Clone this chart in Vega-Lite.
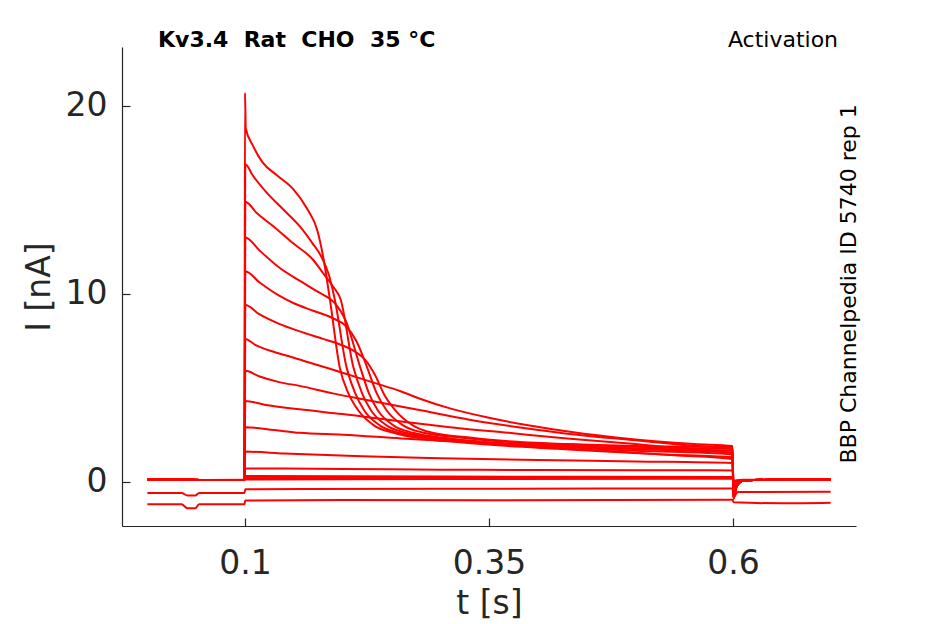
{
  "$schema": "https://vega.github.io/schema/vega-lite/v6.json",
  "width": 734,
  "height": 479,
  "autosize": {"type": "none"},
  "padding": {"left": 122, "top": 47, "right": 89, "bottom": 98},
  "background": "white",
  "title": {
    "text": "Kv3.4\u00a0\u00a0Rat\u00a0\u00a0CHO\u00a0\u00a035\u00a0°C",
    "anchor": "start",
    "frame": "group",
    "dx": 36,
    "dy": 41,
    "offset": 1,
    "baseline": "alphabetic",
    "font": "DejaVu Sans",
    "fontSize": 22,
    "fontWeight": "bold",
    "color": "black"
  },
  "layer": [
    {
      "data": {
        "values": [
          {"s":"A","t":0,"i":0.1},{"s":"A","t":0.03,"i":0.12},{"s":"A","t":0.06,"i":0.09},{"s":"A","t":0.0995,"i":0.1},
          {"s":"A","t":0.1,"i":20.7},{"s":"A","t":0.1008,"i":18.8},{"s":"A","t":0.108,"i":17.9},{"s":"A","t":0.118,"i":17.0},{"s":"A","t":0.133,"i":16.3},{"s":"A","t":0.149,"i":15.6},{"s":"A","t":0.164,"i":14.5},{"s":"A","t":0.174,"i":13.4},{"s":"A","t":0.18,"i":12.0},{"s":"A","t":0.187,"i":9.7},{"s":"A","t":0.197,"i":6.1},{"s":"A","t":0.206,"i":4.7},{"s":"A","t":0.216,"i":3.8},{"s":"A","t":0.232,"i":3.0},{"s":"A","t":0.252,"i":2.6},{"s":"A","t":0.28,"i":2.3},{"s":"A","t":0.32,"i":2.1},{"s":"A","t":0.37,"i":1.9},{"s":"A","t":0.42,"i":1.75},{"s":"A","t":0.47,"i":1.6},{"s":"A","t":0.53,"i":1.45},{"s":"A","t":0.5995,"i":1.3},{"s":"A","t":0.6005,"i":-0.9},
          {"s":"A","t":0.604,"i":-0.2},{"s":"A","t":0.61,"i":0.05},{"s":"A","t":0.65,"i":0.11},{"s":"A","t":0.7,"i":0.1},

          {"s":"B","t":0,"i":0.1},{"s":"B","t":0.03,"i":0.12},{"s":"B","t":0.06,"i":0.09},{"s":"B","t":0.0995,"i":0.1},
          {"s":"B","t":0.1003,"i":16.9},{"s":"B","t":0.108,"i":16.3},{"s":"B","t":0.122,"i":15.4},{"s":"B","t":0.139,"i":14.5},{"s":"B","t":0.156,"i":13.6},{"s":"B","t":0.169,"i":12.7},{"s":"B","t":0.178,"i":12.0},{"s":"B","t":0.186,"i":11.0},{"s":"B","t":0.192,"i":9.7},{"s":"B","t":0.204,"i":6.1},{"s":"B","t":0.213,"i":4.7},{"s":"B","t":0.222,"i":3.8},{"s":"B","t":0.238,"i":3.0},{"s":"B","t":0.258,"i":2.6},{"s":"B","t":0.29,"i":2.3},{"s":"B","t":0.33,"i":2.1},{"s":"B","t":0.38,"i":1.95},{"s":"B","t":0.44,"i":1.8},{"s":"B","t":0.5,"i":1.65},{"s":"B","t":0.5995,"i":1.45},{"s":"B","t":0.6005,"i":-0.9},
          {"s":"B","t":0.604,"i":-0.2},{"s":"B","t":0.61,"i":0.05},{"s":"B","t":0.65,"i":0.11},{"s":"B","t":0.7,"i":0.1},

          {"s":"C","t":0,"i":0.1},{"s":"C","t":0.03,"i":0.12},{"s":"C","t":0.06,"i":0.09},{"s":"C","t":0.0995,"i":0.1},
          {"s":"C","t":0.1003,"i":14.9},{"s":"C","t":0.112,"i":14.3},{"s":"C","t":0.129,"i":13.6},{"s":"C","t":0.149,"i":12.7},{"s":"C","t":0.17,"i":11.8},{"s":"C","t":0.18,"i":11.1},{"s":"C","t":0.19,"i":10.4},{"s":"C","t":0.198,"i":9.7},{"s":"C","t":0.211,"i":6.1},{"s":"C","t":0.22,"i":4.7},{"s":"C","t":0.229,"i":3.8},{"s":"C","t":0.245,"i":3.0},{"s":"C","t":0.265,"i":2.6},{"s":"C","t":0.3,"i":2.3},{"s":"C","t":0.34,"i":2.1},{"s":"C","t":0.4,"i":1.95},{"s":"C","t":0.46,"i":1.8},{"s":"C","t":0.53,"i":1.68},{"s":"C","t":0.5995,"i":1.55},{"s":"C","t":0.6005,"i":-0.9},
          {"s":"C","t":0.604,"i":-0.2},{"s":"C","t":0.61,"i":0.05},{"s":"C","t":0.65,"i":0.11},{"s":"C","t":0.7,"i":0.1},

          {"s":"D","t":0,"i":0.1},{"s":"D","t":0.03,"i":0.12},{"s":"D","t":0.06,"i":0.09},{"s":"D","t":0.0995,"i":0.1},
          {"s":"D","t":0.1003,"i":13.0},{"s":"D","t":0.115,"i":12.3},{"s":"D","t":0.135,"i":11.4},{"s":"D","t":0.156,"i":10.7},{"s":"D","t":0.175,"i":10.1},{"s":"D","t":0.192,"i":9.5},{"s":"D","t":0.203,"i":8.6},{"s":"D","t":0.218,"i":6.1},{"s":"D","t":0.227,"i":4.7},{"s":"D","t":0.236,"i":3.8},{"s":"D","t":0.252,"i":3.0},{"s":"D","t":0.272,"i":2.6},{"s":"D","t":0.31,"i":2.3},{"s":"D","t":0.35,"i":2.1},{"s":"D","t":0.41,"i":1.95},{"s":"D","t":0.47,"i":1.82},{"s":"D","t":0.54,"i":1.72},{"s":"D","t":0.5995,"i":1.65},{"s":"D","t":0.6005,"i":-0.9},
          {"s":"D","t":0.604,"i":-0.2},{"s":"D","t":0.61,"i":0.05},{"s":"D","t":0.65,"i":0.11},{"s":"D","t":0.7,"i":0.1},

          {"s":"E","t":0,"i":0.1},{"s":"E","t":0.03,"i":0.12},{"s":"E","t":0.06,"i":0.09},{"s":"E","t":0.0995,"i":0.1},
          {"s":"E","t":0.1003,"i":11.2},{"s":"E","t":0.115,"i":10.6},{"s":"E","t":0.135,"i":9.9},{"s":"E","t":0.15,"i":9.5},{"s":"E","t":0.17,"i":9.1},{"s":"E","t":0.19,"i":8.7},{"s":"E","t":0.203,"i":8.3},{"s":"E","t":0.214,"i":7.5},{"s":"E","t":0.225,"i":6.1},{"s":"E","t":0.235,"i":4.7},{"s":"E","t":0.245,"i":3.8},{"s":"E","t":0.262,"i":3.0},{"s":"E","t":0.283,"i":2.6},{"s":"E","t":0.32,"i":2.35},{"s":"E","t":0.36,"i":2.15},{"s":"E","t":0.42,"i":2.0},{"s":"E","t":0.48,"i":1.88},{"s":"E","t":0.54,"i":1.8},{"s":"E","t":0.5995,"i":1.75},{"s":"E","t":0.6005,"i":-0.9},
          {"s":"E","t":0.604,"i":-0.2},{"s":"E","t":0.61,"i":0.05},{"s":"E","t":0.65,"i":0.11},{"s":"E","t":0.7,"i":0.1},

          {"s":"F","t":0,"i":0.1},{"s":"F","t":0.03,"i":0.12},{"s":"F","t":0.06,"i":0.09},{"s":"F","t":0.0995,"i":0.1},
          {"s":"F","t":0.1003,"i":9.4},{"s":"F","t":0.115,"i":8.9},{"s":"F","t":0.135,"i":8.4},{"s":"F","t":0.156,"i":8.0},{"s":"F","t":0.18,"i":7.6},{"s":"F","t":0.2,"i":7.25},{"s":"F","t":0.212,"i":6.95},{"s":"F","t":0.223,"i":6.5},{"s":"F","t":0.233,"i":5.7},{"s":"F","t":0.243,"i":4.6},{"s":"F","t":0.254,"i":3.8},{"s":"F","t":0.272,"i":3.0},{"s":"F","t":0.292,"i":2.6},{"s":"F","t":0.33,"i":2.35},{"s":"F","t":0.37,"i":2.15},{"s":"F","t":0.43,"i":2.0},{"s":"F","t":0.5,"i":1.9},{"s":"F","t":0.5995,"i":1.85},{"s":"F","t":0.6005,"i":-0.9},
          {"s":"F","t":0.604,"i":-0.2},{"s":"F","t":0.61,"i":0.05},{"s":"F","t":0.65,"i":0.11},{"s":"F","t":0.7,"i":0.1},

          {"s":"G","t":0,"i":0.1},{"s":"G","t":0.03,"i":0.12},{"s":"G","t":0.06,"i":0.09},{"s":"G","t":0.0995,"i":0.1},
          {"s":"G","t":0.1003,"i":7.6},{"s":"G","t":0.11,"i":7.3},{"s":"G","t":0.13,"i":6.9},{"s":"G","t":0.15,"i":6.6},{"s":"G","t":0.175,"i":6.2},{"s":"G","t":0.2,"i":5.8},{"s":"G","t":0.23,"i":5.3},{"s":"G","t":0.26,"i":4.8},{"s":"G","t":0.28,"i":4.4},{"s":"G","t":0.31,"i":3.9},{"s":"G","t":0.35,"i":3.4},{"s":"G","t":0.39,"i":3.0},{"s":"G","t":0.44,"i":2.6},{"s":"G","t":0.48,"i":2.35},{"s":"G","t":0.52,"i":2.15},{"s":"G","t":0.56,"i":2.0},{"s":"G","t":0.5995,"i":1.9},{"s":"G","t":0.6005,"i":-0.6},
          {"s":"G","t":0.604,"i":-0.2},{"s":"G","t":0.61,"i":0.05},{"s":"G","t":0.65,"i":0.11},{"s":"G","t":0.7,"i":0.1},

          {"s":"H","t":0,"i":0.1},{"s":"H","t":0.03,"i":0.12},{"s":"H","t":0.06,"i":0.09},{"s":"H","t":0.0995,"i":0.1},
          {"s":"H","t":0.1003,"i":5.9},{"s":"H","t":0.115,"i":5.6},{"s":"H","t":0.135,"i":5.3},{"s":"H","t":0.156,"i":5.1},{"s":"H","t":0.19,"i":4.7},{"s":"H","t":0.23,"i":4.3},{"s":"H","t":0.28,"i":3.8},{"s":"H","t":0.33,"i":3.3},{"s":"H","t":0.38,"i":2.9},{"s":"H","t":0.44,"i":2.5},{"s":"H","t":0.5,"i":2.2},{"s":"H","t":0.55,"i":1.95},{"s":"H","t":0.5995,"i":1.75},{"s":"H","t":0.6005,"i":-0.6},
          {"s":"H","t":0.604,"i":-0.2},{"s":"H","t":0.61,"i":0.05},{"s":"H","t":0.65,"i":0.11},{"s":"H","t":0.7,"i":0.1},

          {"s":"I","t":0,"i":0.1},{"s":"I","t":0.03,"i":0.12},{"s":"I","t":0.06,"i":0.09},{"s":"I","t":0.0995,"i":0.1},
          {"s":"I","t":0.1003,"i":4.3},{"s":"I","t":0.12,"i":4.1},{"s":"I","t":0.156,"i":3.85},{"s":"I","t":0.2,"i":3.6},{"s":"I","t":0.26,"i":3.2},{"s":"I","t":0.31,"i":2.9},{"s":"I","t":0.37,"i":2.6},{"s":"I","t":0.43,"i":2.3},{"s":"I","t":0.5,"i":2.0},{"s":"I","t":0.55,"i":1.75},{"s":"I","t":0.5995,"i":1.5},{"s":"I","t":0.6005,"i":-0.5},
          {"s":"I","t":0.604,"i":-0.2},{"s":"I","t":0.61,"i":0.05},{"s":"I","t":0.65,"i":0.11},{"s":"I","t":0.7,"i":0.1},

          {"s":"J","t":0,"i":0.1},{"s":"J","t":0.03,"i":0.12},{"s":"J","t":0.06,"i":0.09},{"s":"J","t":0.0995,"i":0.1},
          {"s":"J","t":0.1003,"i":2.9},{"s":"J","t":0.13,"i":2.75},{"s":"J","t":0.156,"i":2.6},{"s":"J","t":0.2,"i":2.5},{"s":"J","t":0.26,"i":2.3},{"s":"J","t":0.33,"i":2.1},{"s":"J","t":0.4,"i":1.85},{"s":"J","t":0.48,"i":1.6},{"s":"J","t":0.54,"i":1.4},{"s":"J","t":0.5995,"i":1.2},{"s":"J","t":0.6005,"i":-0.4},
          {"s":"J","t":0.604,"i":-0.2},{"s":"J","t":0.61,"i":0.05},{"s":"J","t":0.65,"i":0.11},{"s":"J","t":0.7,"i":0.1},

          {"s":"K","t":0,"i":0.1},{"s":"K","t":0.03,"i":0.12},{"s":"K","t":0.06,"i":0.09},{"s":"K","t":0.0995,"i":0.1},
          {"s":"K","t":0.1003,"i":1.6},{"s":"K","t":0.14,"i":1.5},{"s":"K","t":0.22,"i":1.35},{"s":"K","t":0.3,"i":1.25},{"s":"K","t":0.4,"i":1.15},{"s":"K","t":0.5,"i":1.08},{"s":"K","t":0.5995,"i":1.0},{"s":"K","t":0.6005,"i":-0.3},
          {"s":"K","t":0.604,"i":-0.2},{"s":"K","t":0.61,"i":0.05},{"s":"K","t":0.65,"i":0.11},{"s":"K","t":0.7,"i":0.1},

          {"s":"L","t":0,"i":0.1},{"s":"L","t":0.03,"i":0.12},{"s":"L","t":0.06,"i":0.09},{"s":"L","t":0.0995,"i":0.1},
          {"s":"L","t":0.1003,"i":0.7},{"s":"L","t":0.2,"i":0.68},{"s":"L","t":0.3,"i":0.64},{"s":"L","t":0.4,"i":0.62},{"s":"L","t":0.5995,"i":0.6},{"s":"L","t":0.6005,"i":-0.2},
          {"s":"L","t":0.604,"i":-0.1},{"s":"L","t":0.61,"i":0.05},{"s":"L","t":0.65,"i":0.11},{"s":"L","t":0.7,"i":0.1},

          {"s":"M1","t":0,"i":0.1},{"s":"M1","t":0.03,"i":0.12},{"s":"M1","t":0.06,"i":0.09},{"s":"M1","t":0.0995,"i":0.1},
          {"s":"M1","t":0.1003,"i":0.3},{"s":"M1","t":0.3,"i":0.27},{"s":"M1","t":0.5995,"i":0.25},{"s":"M1","t":0.6005,"i":-0.1},
          {"s":"M1","t":0.604,"i":0.0},{"s":"M1","t":0.61,"i":0.05},{"s":"M1","t":0.65,"i":0.11},{"s":"M1","t":0.7,"i":0.1},

          {"s":"M2","t":0,"i":0.1},{"s":"M2","t":0.03,"i":0.12},{"s":"M2","t":0.06,"i":0.09},{"s":"M2","t":0.0995,"i":0.1},
          {"s":"M2","t":0.1003,"i":0.2},{"s":"M2","t":0.35,"i":0.2},{"s":"M2","t":0.5995,"i":0.2},{"s":"M2","t":0.6005,"i":0.0},
          {"s":"M2","t":0.604,"i":0.05},{"s":"M2","t":0.61,"i":0.08},{"s":"M2","t":0.65,"i":0.11},{"s":"M2","t":0.7,"i":0.1},

          {"s":"M3","t":0,"i":0.1},{"s":"M3","t":0.03,"i":0.12},{"s":"M3","t":0.06,"i":0.09},{"s":"M3","t":0.0995,"i":0.1},
          {"s":"M3","t":0.1003,"i":0.12},{"s":"M3","t":0.35,"i":0.14},{"s":"M3","t":0.5995,"i":0.15},{"s":"M3","t":0.6005,"i":0.05},
          {"s":"M3","t":0.604,"i":0.08},{"s":"M3","t":0.61,"i":0.1},{"s":"M3","t":0.65,"i":0.11},{"s":"M3","t":0.7,"i":0.1},

          {"s":"N","t":0,"i":-0.6},{"s":"N","t":0.035,"i":-0.6},{"s":"N","t":0.041,"i":-0.74},{"s":"N","t":0.049,"i":-0.74},{"s":"N","t":0.053,"i":-0.6},{"s":"N","t":0.0995,"i":-0.6},
          {"s":"N","t":0.1003,"i":-0.4},{"s":"N","t":0.3,"i":-0.38},{"s":"N","t":0.5995,"i":-0.36},{"s":"N","t":0.6005,"i":-0.8},{"s":"N","t":0.605,"i":-0.55},{"s":"N","t":0.7,"i":-0.53},

          {"s":"O","t":0,"i":-1.2},{"s":"O","t":0.035,"i":-1.2},{"s":"O","t":0.041,"i":-1.42},{"s":"O","t":0.049,"i":-1.42},{"s":"O","t":0.053,"i":-1.2},{"s":"O","t":0.0995,"i":-1.2},
          {"s":"O","t":0.1003,"i":-1.0},{"s":"O","t":0.2,"i":-0.97},{"s":"O","t":0.35,"i":-0.99},{"s":"O","t":0.5995,"i":-0.96},{"s":"O","t":0.6005,"i":-1.1},{"s":"O","t":0.65,"i":-1.15},{"s":"O","t":0.7,"i":-1.12}
        ]
      },
      "mark": {"type": "line", "color": "#ff0000", "strokeWidth": 2, "interpolate": "monotone"},
      "encoding": {
        "x": {
          "field": "t",
          "type": "quantitative",
          "scale": {"domain": [-0.026, 0.726], "nice": false, "zero": false},
          "axis": {
            "values": [0.1, 0.35, 0.6],
            "format": "~g",
            "title": "t [s]",
            "titleX": 367,
            "titleY": 87,
            "titleBaseline": "alphabetic",
            "titleAlign": "center",
            "labelPadding": 29
          }
        },
        "y": {
          "field": "i",
          "type": "quantitative",
          "scale": {"domain": [-2.36, 23.14], "nice": false, "zero": false},
          "axis": {
            "values": [0, 10, 20],
            "format": "d",
            "title": "I [nA]",
            "titleX": -73,
            "titleY": 239.5,
            "titleAngle": 270,
            "titleBaseline": "alphabetic",
            "titleAlign": "center",
            "labelPadding": 23
          }
        },
        "detail": {"field": "s", "type": "nominal"}
      }
    },
    {
      "data": {"values": [{}]},
      "mark": {"type": "text", "text": "Activation", "align": "right", "baseline": "alphabetic", "font": "DejaVu Sans", "fontSize": 22, "color": "black"},
      "encoding": {
        "x": {"datum": 0.7076, "type": "quantitative"},
        "y": {"datum": 23.14, "type": "quantitative"}
      }
    },
    {
      "data": {"values": [{}]},
      "mark": {"type": "text", "text": "BBP Channelpedia ID 5740 rep 1", "align": "center", "baseline": "alphabetic", "angle": 270, "font": "DejaVu Sans", "fontSize": 22, "color": "black"},
      "encoding": {
        "x": {"datum": 0.7265, "type": "quantitative"},
        "y": {"datum": 10.53, "type": "quantitative"}
      }
    }
  ],
  "config": {
    "view": {"stroke": null},
    "font": "DejaVu Sans",
    "axis": {
      "grid": false,
      "domainColor": "#262626",
      "domainWidth": 1.2,
      "tickColor": "#262626",
      "tickWidth": 1.2,
      "tickSize": -8,
      "labelFont": "DejaVu Sans",
      "labelFontSize": 33,
      "labelColor": "#262626",
      "titleFont": "DejaVu Sans",
      "titleFontSize": 33,
      "titleFontWeight": "normal",
      "titleColor": "#262626"
    }
  }
}
